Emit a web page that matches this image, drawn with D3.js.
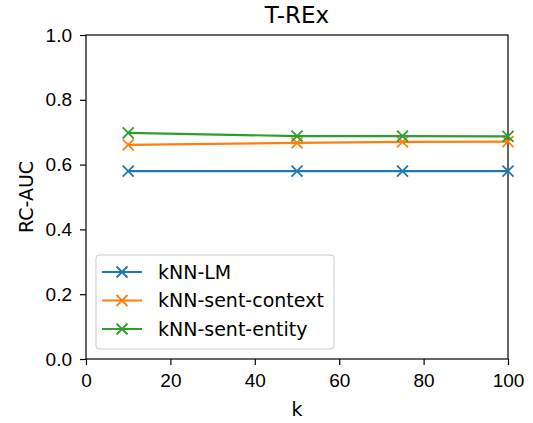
<!DOCTYPE html>
<html>
<head>
<meta charset="utf-8">
<script src="https://cdn.jsdelivr.net/npm/d3@7"></script>
<style>
  body { margin: 0; background: #fff; }
  svg { font-family: "DejaVu Sans", sans-serif; }
  .tick text { font-size: 19px; fill: #000; }
</style>
</head>
<body>
<svg id="chart" width="533" height="423"></svg>
<script>
const kValues = [10, 50, 75, 100];
const seriesNames = ['kNN-LM', 'kNN-sent-context', 'kNN-sent-entity'];
const lmValues = [0.580, 0.580, 0.580, 0.580];
const contextValues = [0.661, 0.667, 0.670, 0.671];
const entityValues = [0.698, 0.688, 0.688, 0.687];
const colors = ['#1f77b4', '#ff7f0e', '#2ca02c'];
const yTicks = [0, 0.2, 0.4, 0.6, 0.8, 1.0];
const xTicks = [0, 20, 40, 60, 80, 100];

const series = [lmValues, contextValues, entityValues].map((vals, i) => ({
  name: seriesNames[i],
  color: colors[i],
  points: kValues.map((k, j) => ({ k, v: vals[j] }))
}));

const margin = { top: 35, right: 25, bottom: 64, left: 86 };
const width = 533, height = 423;
const svg = d3.select('#chart');

const x = d3.scaleLinear().domain([0, 100]).range([margin.left, width - margin.right]);
const y = d3.scaleLinear().domain([0, 1]).range([height - margin.bottom, margin.top]);

// axes
svg.append('g')
  .attr('transform', `translate(0,${height - margin.bottom})`)
  .call(d3.axisBottom(x).tickValues(xTicks).tickSize(6).tickPadding(9).tickFormat(d3.format('d')))
  .call(g => g.select('.domain').remove());
svg.append('g')
  .attr('transform', `translate(${margin.left},0)`)
  .call(d3.axisLeft(y).tickValues(yTicks).tickSize(6).tickPadding(8).tickFormat(d3.format('.1f')))
  .call(g => g.select('.domain').remove());
svg.selectAll('.tick line').attr('stroke', '#000').attr('stroke-width', 1.2);

// frame
svg.append('rect')
  .attr('x', x(0)).attr('y', y(1))
  .attr('width', x(100) - x(0)).attr('height', y(0) - y(1))
  .attr('fill', 'none').attr('stroke', '#000').attr('stroke-width', 1.2);

const line = d3.line().x(d => x(d.k)).y(d => y(d.v));
const plot = svg.append('g');

function cross(g, cx, cy, color) {
  const s = 5.5;
  g.append('path')
    .attr('d', `M${cx - s},${cy - s}L${cx + s},${cy + s}M${cx - s},${cy + s}L${cx + s},${cy - s}`)
    .attr('stroke', color).attr('stroke-width', 1.8).attr('fill', 'none');
}

series.forEach(s => {
  plot.append('path')
    .datum(s.points)
    .attr('d', line)
    .attr('fill', 'none')
    .attr('stroke', s.color)
    .attr('stroke-width', 2.2);
  s.points.forEach(p => cross(plot, x(p.k), y(p.v), s.color));
});

// title and labels
svg.append('text').attr('x', (x(0) + x(100)) / 2).attr('y', 23)
  .attr('text-anchor', 'middle').attr('font-size', 23).text('T-REx');
svg.append('text').attr('x', (x(0) + x(100)) / 2).attr('y', 416)
  .attr('text-anchor', 'middle').attr('font-size', 19).text('k');
svg.append('text')
  .attr('transform', `translate(33,${(y(0) + y(1)) / 2}) rotate(-90)`)
  .attr('text-anchor', 'middle').attr('font-size', 19).text('RC-AUC');

// legend
const legend = svg.append('g');
legend.append('rect')
  .attr('x', 96).attr('y', 255).attr('width', 238).attr('height', 94).attr('rx', 3)
  .attr('fill', '#fff').attr('fill-opacity', 0.8).attr('stroke', '#ccc');
series.forEach((s, i) => {
  const ly = 272 + i * 28.5;
  legend.append('line')
    .attr('x1', 102).attr('x2', 142).attr('y1', ly).attr('y2', ly)
    .attr('stroke', s.color).attr('stroke-width', 2.2);
  cross(legend, 122, ly, s.color);
  legend.append('text').attr('x', 158).attr('y', ly).attr('dy', '0.35em')
    .attr('font-size', 19).text(s.name);
});
</script>
</body>
</html>
